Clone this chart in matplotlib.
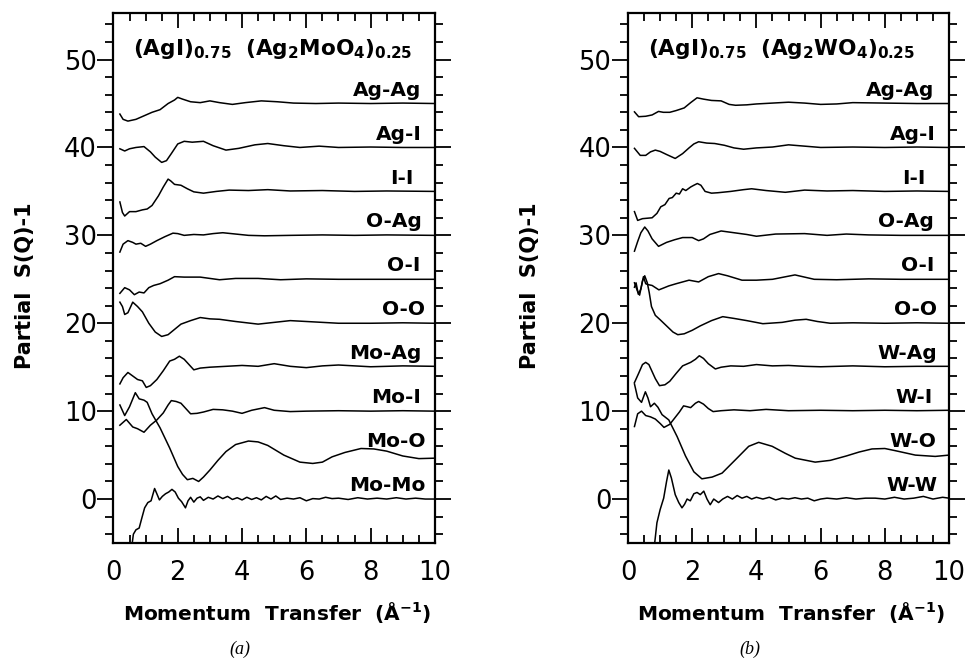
import matplotlib
matplotlib.use("Agg")
import matplotlib.pyplot as plt
from matplotlib.ticker import MultipleLocator

plt.rcParams["font.family"] = "DejaVu Sans"
plt.rcParams["mathtext.fontset"] = "dejavusans"

# ---- panel (a): (AgI)0.75 (Ag2MoO4)0.25 ----
AGAG_A_Q = [0.2, 0.3, 0.45, 0.7, 0.95, 1.2, 1.45, 1.7, 1.9, 2.0, 2.15, 2.4, 2.7, 3.0, 3.3, 3.7, 4.1, 4.6, 5.1, 5.6, 6.3, 7.0, 8.0, 9.0, 10.0]
AGAG_A_S = [43.8, 43.2, 43.0, 43.2, 43.6, 44.0, 44.3, 45.0, 45.4, 45.7, 45.5, 45.2, 45.1, 45.3, 45.1, 44.9, 45.1, 45.3, 45.2, 45.05, 45.0, 45.05, 45.0, 45.05, 45.0]
AGI_A_Q = [0.2, 0.35, 0.5, 0.7, 0.95, 1.15, 1.3, 1.5, 1.65, 1.8, 2.0, 2.2, 2.45, 2.8, 3.1, 3.5, 3.9, 4.4, 4.8, 5.3, 5.8, 6.4, 7.0, 8.0, 9.0, 10.0]
AGI_A_S = [39.85, 39.6, 39.85, 40.0, 40.1, 39.5, 38.9, 38.3, 38.5, 39.3, 40.4, 40.7, 40.6, 40.7, 40.2, 39.7, 39.9, 40.3, 40.45, 40.2, 40.0, 40.15, 40.0, 40.05, 40.0, 40.0]
II_A_Q = [0.2, 0.28, 0.35, 0.5, 0.7, 0.9, 1.05, 1.2, 1.4, 1.55, 1.7, 1.78, 1.9, 2.1, 2.3, 2.5, 2.8, 3.2, 3.6, 4.2, 4.8, 5.5, 6.5, 7.5, 8.5, 10.0]
II_A_S = [33.8, 32.6, 32.2, 32.7, 32.7, 32.9, 33.0, 33.4, 34.5, 35.5, 36.4, 36.2, 35.8, 35.7, 35.3, 34.95, 34.8, 35.0, 35.15, 35.1, 35.2, 35.05, 35.1, 35.0, 35.05, 35.0]
OAG_A_Q = [0.2, 0.3, 0.45, 0.6, 0.7, 0.85, 1.0, 1.15, 1.35, 1.6, 1.85, 2.0, 2.2, 2.5, 2.8, 3.1, 3.4, 3.8, 4.2, 4.7, 5.5, 6.5, 7.5, 8.5, 10.0]
OAG_A_S = [28.1, 29.0, 29.4, 29.2, 29.0, 29.1, 28.75, 29.0, 29.4, 29.85, 30.25, 30.2, 30.0, 30.1, 30.05, 30.2, 30.3, 30.15, 30.0, 29.95, 30.0, 30.05, 30.0, 30.05, 30.0]
OI_A_Q = [0.2, 0.35, 0.5, 0.65, 0.8, 0.95, 1.1, 1.25, 1.45, 1.7, 1.9, 2.2, 2.7, 3.3, 3.8, 4.5, 5.2, 6.0, 7.0, 8.0, 9.0, 10.0]
OI_A_S = [23.4, 24.05, 23.8, 23.25, 23.55, 23.45, 24.05, 24.3, 24.5, 24.9, 25.3, 25.25, 25.25, 24.95, 25.1, 25.1, 24.95, 25.05, 25.0, 25.0, 25.0, 25.0]
OO_A_Q = [0.2, 0.28, 0.35, 0.45, 0.6, 0.75, 0.9, 1.1, 1.3, 1.5, 1.7, 1.9, 2.1, 2.4, 2.7, 3.0, 3.3, 3.8, 4.5, 5.0, 5.5, 6.0, 6.5, 7.0, 8.0, 9.0, 10.0]
OO_A_S = [22.4, 21.9, 21.0, 21.2, 22.4, 21.9, 21.3, 20.0, 19.0, 18.5, 18.7, 19.3, 19.9, 20.3, 20.65, 20.5, 20.45, 20.2, 19.9, 20.1, 20.3, 20.2, 20.1, 20.0, 20.0, 20.05, 20.0]
MOAG_A_Q = [0.2, 0.3, 0.45, 0.6, 0.75, 0.9, 1.02, 1.15, 1.35, 1.55, 1.75, 1.9, 2.05, 2.2, 2.35, 2.5, 2.7, 3.0, 3.5, 4.0, 4.5, 5.0, 5.5, 6.0, 6.5, 7.0, 8.0, 9.0, 10.0]
MOAG_A_S = [13.1, 13.8, 14.4, 14.0, 13.6, 13.45, 12.7, 12.9, 13.6, 14.6, 15.7, 15.9, 16.25, 15.9, 15.3, 14.7, 14.9, 15.0, 15.1, 15.2, 15.1, 15.4, 15.1, 14.95, 15.15, 15.25, 15.05, 15.15, 15.1]
MOI_A_Q = [0.2, 0.4, 0.6, 0.75, 0.95, 1.15, 1.35, 1.55, 1.7, 1.8, 1.95, 2.1, 2.25, 2.4, 2.6, 2.8, 3.1, 3.4, 3.7, 4.0, 4.3, 4.7, 5.0, 5.5, 6.0, 7.0, 8.0, 9.0, 10.0]
MOI_A_S = [8.4, 9.05, 8.2, 8.0, 7.6, 8.4, 9.0, 9.8, 10.7, 11.2, 11.1, 10.9, 10.3, 9.7, 9.75, 9.9, 10.2, 10.15, 10.0, 9.75, 10.1, 10.4, 10.1, 9.95, 10.0, 10.05, 10.0, 10.05, 10.0]
MOO_A_Q = [0.2, 0.35, 0.5, 0.68, 0.8, 0.95, 1.05, 1.2, 1.45, 1.75, 2.0, 2.15, 2.3, 2.47, 2.65, 2.8, 3.0, 3.25, 3.5, 3.8, 4.2, 4.5, 4.8, 5.3, 5.8, 6.2, 6.5, 6.8, 7.2, 7.7, 8.1, 8.5, 9.0, 9.5, 10.0]
MOO_A_S = [10.7, 9.5, 10.5, 12.1, 11.4, 11.25, 11.0, 9.7, 8.1, 5.8, 3.7, 2.8, 2.2, 2.35, 2.0, 2.5, 3.3, 4.4, 5.4, 6.2, 6.6, 6.5, 6.1, 5.0, 4.2, 4.05, 4.2, 4.8, 5.3, 5.75, 5.7, 5.45, 4.9, 4.6, 4.65]
MOMO_A_Q = [0.55, 0.62, 0.7, 0.8, 0.88, 0.97, 1.07, 1.17, 1.28, 1.35, 1.43, 1.52, 1.62, 1.72, 1.82, 1.92, 2.02, 2.12, 2.24, 2.32,
            2.4, 2.5, 2.6, 2.7, 2.8, 2.95, 3.1, 3.25, 3.4, 3.55, 3.7, 3.85, 4.0, 4.15, 4.3, 4.45, 4.6, 4.75, 4.9, 5.05,
            5.2, 5.4, 5.6, 5.8, 6.0, 6.2, 6.4, 6.6, 6.8, 7.0, 7.3, 7.6, 7.9, 8.2, 8.5, 8.8, 9.1, 9.4, 9.7, 10.0]
MOMO_A_S = [-6.0, -4.0, -3.5, -3.3, -2.2, -1.0, -0.4, -0.2, 1.2, 0.6, -0.1, 0.3, 0.6, 0.8, 1.1, 0.8, 0.1, -0.3, -1.0, -0.2,
            0.2, -0.35, 0.1, 0.25, -0.15, 0.2, 0.0, 0.35, 0.05, 0.3, -0.05, 0.15, -0.1, 0.2, -0.05, 0.15, -0.1, 0.3, 0.0, 0.35,
            -0.05, 0.1, 0.0, 0.15, -0.2, 0.05, 0.0, 0.2, 0.05, 0.1, -0.05, 0.15, 0.0, 0.1, 0.0, 0.15, 0.0, 0.1, 0.0, 0.0]

# ---- panel (b): (AgI)0.75 (Ag2WO4)0.25 ----
AGAG_B_Q = [0.2, 0.33, 0.55, 0.75, 0.95, 1.1, 1.3, 1.5, 1.75, 1.95, 2.15, 2.35, 2.6, 2.9, 3.15, 3.35, 3.7, 4.0, 4.5, 5.0, 5.5, 6.0, 6.5, 7.0, 8.0, 9.0, 10.0]
AGAG_B_S = [44.05, 43.5, 43.55, 43.7, 44.1, 44.0, 44.0, 44.2, 44.5, 45.1, 45.65, 45.5, 45.35, 45.3, 44.9, 44.8, 44.85, 44.95, 45.05, 45.15, 45.05, 44.9, 44.95, 45.1, 45.05, 45.0, 45.0]
AGI_B_Q = [0.2, 0.38, 0.55, 0.7, 0.85, 1.0, 1.2, 1.47, 1.7, 1.9, 2.05, 2.2, 2.45, 2.7, 3.0, 3.3, 3.6, 4.0, 4.5, 5.0, 5.5, 6.0, 7.0, 8.0, 9.0, 10.0]
AGI_B_S = [39.9, 39.1, 39.1, 39.5, 39.7, 39.55, 39.2, 38.75, 39.3, 39.95, 40.4, 40.65, 40.5, 40.45, 40.25, 39.95, 39.8, 39.95, 40.05, 40.3, 40.15, 40.0, 40.05, 40.0, 40.05, 40.0]
II_B_Q = [0.2, 0.3, 0.45, 0.6, 0.75, 0.9, 1.02, 1.15, 1.28, 1.38, 1.5, 1.6, 1.7, 1.8, 1.95, 2.05, 2.16, 2.27, 2.4, 2.6, 2.8, 3.2, 3.6, 3.85, 4.3, 4.9, 5.5, 6.2, 7.0, 8.0, 9.0, 10.0]
II_B_S = [32.7, 31.7, 31.9, 31.95, 32.0, 32.5, 33.25, 33.5, 34.2, 34.3, 34.8, 34.7, 35.3, 35.1, 35.5, 35.7, 35.9, 35.7, 35.0, 34.8, 34.85, 35.0, 35.2, 35.3, 35.1, 34.9, 35.15, 35.05, 35.1, 35.0, 35.05, 35.0]
OAG_B_Q = [0.2, 0.3, 0.4, 0.52, 0.62, 0.75, 0.95, 1.2, 1.45, 1.7, 2.0, 2.2, 2.35, 2.55, 2.9, 3.3, 3.7, 4.0, 4.6, 5.5, 6.2, 6.8, 7.5, 8.5, 10.0]
OAG_B_S = [28.2, 29.3, 30.3, 30.95, 30.5, 29.6, 28.75, 29.2, 29.5, 29.75, 29.75, 29.4, 29.6, 30.1, 30.5, 30.3, 30.1, 29.9, 30.15, 30.2, 30.0, 30.15, 30.05, 30.0, 30.0]
OI_B_Q = [0.2, 0.25, 0.32, 0.4, 0.48, 0.55, 0.62, 0.75, 0.96, 1.1, 1.27, 1.5, 1.7, 1.9, 2.2, 2.5, 2.82, 3.1, 3.55, 4.0, 4.5, 5.2, 5.8, 6.5, 7.5, 8.5, 10.0]
OI_B_S = [24.1, 24.6, 23.3, 23.9, 25.3, 24.5, 24.4, 24.3, 23.8, 24.0, 24.25, 24.5, 24.7, 24.9, 24.7, 25.3, 25.65, 25.4, 24.9, 24.9, 25.0, 25.5, 25.0, 24.95, 25.05, 25.0, 25.0]
OO_B_Q = [0.2, 0.3, 0.36, 0.45, 0.52, 0.6, 0.66, 0.73, 0.85, 1.0, 1.2, 1.4, 1.55, 1.75, 2.0, 2.25, 2.6, 2.95, 3.3, 3.7, 4.2, 4.8, 5.2, 5.55, 5.9, 6.3, 7.0, 8.0, 9.0, 10.0]
OO_B_S = [24.6, 23.6, 23.2, 24.8, 25.4, 24.6, 23.5, 21.9, 20.9, 20.4, 19.7, 19.0, 18.7, 18.8, 19.2, 19.7, 20.3, 20.75, 20.55, 20.3, 19.95, 20.1, 20.35, 20.45, 20.2, 20.0, 20.05, 20.0, 20.05, 20.0]
WAG_B_Q = [0.2, 0.33, 0.45, 0.55, 0.65, 0.75, 0.85, 0.98, 1.15, 1.3, 1.5, 1.7, 1.95, 2.1, 2.22, 2.35, 2.5, 2.72, 2.9, 3.2, 3.6, 4.0, 4.5, 5.0, 5.5, 6.0, 7.0, 8.0, 9.0, 10.0]
WAG_B_S = [13.25, 14.3, 15.3, 15.55, 15.3, 14.5, 13.7, 12.9, 13.0, 13.4, 14.3, 15.15, 15.55, 15.9, 16.3, 16.0, 15.4, 14.8, 15.0, 15.15, 15.1, 15.3, 15.15, 15.2, 15.1, 15.05, 15.15, 15.05, 15.1, 15.1]
WI_B_Q = [0.2, 0.3, 0.42, 0.55, 0.7, 0.85, 1.0, 1.12, 1.3, 1.45, 1.6, 1.73, 1.85, 1.95, 2.1, 2.2, 2.35, 2.5, 2.65, 2.9, 3.3, 3.8, 4.3, 5.0, 6.0, 7.0, 8.0, 9.0, 10.0]
WI_B_S = [8.25, 9.7, 10.0, 9.5, 9.35, 9.1, 8.6, 8.15, 8.5, 9.2, 9.9, 10.6, 10.5, 10.4, 10.9, 11.1, 10.8, 10.3, 9.95, 10.05, 10.15, 10.05, 10.2, 10.05, 10.1, 10.05, 10.1, 10.05, 10.1]
WO_B_Q = [0.2, 0.3, 0.42, 0.54, 0.62, 0.7, 0.82, 0.93, 1.06, 1.27, 1.53, 1.79, 2.05, 2.3, 2.62, 2.93, 3.34, 3.76, 4.07, 4.49, 4.9, 5.21, 5.83, 6.3, 6.8, 7.2, 7.6, 8.0, 8.33, 8.95, 9.57, 10.0]
WO_B_S = [13.1, 11.5, 11.0, 12.2, 11.5, 10.5, 10.9, 10.45, 9.6, 9.0, 7.1, 4.9, 3.1, 2.3, 2.5, 2.95, 4.45, 6.0, 6.45, 6.0, 5.2, 4.65, 4.2, 4.4, 4.9, 5.35, 5.7, 5.75, 5.5, 5.0, 4.85, 5.0]
WW_B_Q = [0.8, 0.9, 1.0, 1.11, 1.2, 1.27, 1.35, 1.47, 1.58, 1.68, 1.76, 1.84, 1.94, 2.05, 2.15, 2.25, 2.36, 2.46, 2.56, 2.67,
          2.82, 2.95, 3.1, 3.25, 3.4, 3.55, 3.7, 3.85, 4.0, 4.2, 4.4, 4.6, 4.8, 5.0, 5.2, 5.4, 5.6, 5.8, 6.0, 6.2,
          6.5, 6.8, 7.1, 7.4, 7.7, 8.0, 8.3, 8.6, 8.9, 9.2, 9.5, 9.8, 10.0]
WW_B_S = [-6.0, -2.7, -1.2, 0.1, 2.0, 3.3, 2.4, 0.5, -0.4, -1.0, -0.6, 0.0, -0.2, 0.6, 0.75, 0.5, 0.9, 0.0, -0.65, 0.0,
          -0.4, 0.0, 0.3, 0.0, 0.4, 0.1, 0.3, 0.0, 0.2, 0.0, 0.2, -0.1, 0.1, 0.0, 0.15, 0.0, 0.1, -0.2, 0.0, 0.1,
          0.0, 0.15, 0.0, 0.1, 0.1, 0.0, 0.2, 0.0, 0.1, 0.3, 0.0, 0.2, 0.1]

LABELS_A = ["Ag-Ag", "Ag-I", "I-I", "O-Ag", "O-I", "O-O", "Mo-Ag", "Mo-I", "Mo-O", "Mo-Mo"]
LABELS_B = ["Ag-Ag", "Ag-I", "I-I", "O-Ag", "O-I", "O-O", "W-Ag", "W-I", "W-O", "W-W"]
OFFSETS = [45, 40, 35, 30, 25, 20, 15, 10, 5, 0]
TITLE_A = r"$\mathbf{(AgI)_{0.75}\ \ (Ag_2MoO_4)_{0.25}}$"
TITLE_B = r"$\mathbf{(AgI)_{0.75}\ \ (Ag_2WO_4)_{0.25}}$"

# where each label's right edge sits (in Q units)
LABEL_X_A = [9.58, 9.6, 9.33, 9.58, 9.55, 9.7, 9.58, 9.58, 9.7, 9.72]
LABEL_X_B = [9.53, 9.58, 9.27, 9.53, 9.53, 9.63, 9.63, 9.5, 9.6, 9.64]


def draw_panel(ax, curves, labels, label_x, title):
    for q, s in curves:
        ax.plot(q, s, color="black", lw=1.1, clip_on=True)
    for lab, off, xr in zip(labels, OFFSETS, label_x):
        ax.text(xr, off + 0.9, lab, ha="right", va="baseline",
                fontsize=14.5, fontweight="bold")
    ax.text(0.62, 50.5, title, ha="left", va="baseline", fontsize=15.6)

    ax.set_xlim(0, 10)
    ax.set_ylim(-5, 55.3)
    ax.xaxis.set_major_locator(MultipleLocator(2))
    ax.xaxis.set_minor_locator(MultipleLocator(0.5))
    ax.yaxis.set_major_locator(MultipleLocator(10))
    ax.yaxis.set_minor_locator(MultipleLocator(2))
    ax.tick_params(axis="x", which="both", direction="in", top=True, bottom=True,
                   width=1.3, labelsize=18.5, pad=12)
    ax.tick_params(axis="x", which="major", length=11)
    ax.tick_params(axis="x", which="minor", length=6)
    ax.tick_params(axis="y", which="both", direction="out", left=True, right=True,
                   width=1.3, labelsize=18.5, pad=0.5)
    ax.tick_params(axis="y", which="major", length=11.5)
    ax.tick_params(axis="y", which="minor", length=5.5)
    for sp in ax.spines.values():
        sp.set_linewidth(1.6)


fig = plt.figure(figsize=(9.68, 6.66), dpi=100)
ax_a = fig.add_axes([0.1172, 0.1847, 0.3321, 0.7958])
ax_b = fig.add_axes([0.6488, 0.1847, 0.3316, 0.7958])

curves_a = [(AGAG_A_Q, AGAG_A_S), (AGI_A_Q, AGI_A_S), (II_A_Q, II_A_S), (OAG_A_Q, OAG_A_S),
            (OI_A_Q, OI_A_S), (OO_A_Q, OO_A_S), (MOAG_A_Q, MOAG_A_S), (MOI_A_Q, MOI_A_S),
            (MOO_A_Q, MOO_A_S), (MOMO_A_Q, MOMO_A_S)]
curves_b = [(AGAG_B_Q, AGAG_B_S), (AGI_B_Q, AGI_B_S), (II_B_Q, II_B_S), (OAG_B_Q, OAG_B_S),
            (OI_B_Q, OI_B_S), (OO_B_Q, OO_B_S), (WAG_B_Q, WAG_B_S), (WI_B_Q, WI_B_S),
            (WO_B_Q, WO_B_S), (WW_B_Q, WW_B_S)]

draw_panel(ax_a, curves_a, LABELS_A, LABEL_X_A, TITLE_A)
draw_panel(ax_b, curves_b, LABELS_B, LABEL_X_B, TITLE_B)

for ax, ylab_x, cap, cap_x in [(ax_a, 0.026, "(a)", 0.248), (ax_b, 0.548, "(b)", 0.775)]:
    pos = ax.get_position()
    fig.text(pos.x0 + pos.width / 2 + 0.003, 0.081, "Momentum  Transfer  (Å$^{\\mathbf{-1}}$)",
             ha="center", va="center", fontsize=14.5, fontweight="bold")
    fig.text(ylab_x, 0.5706, "Partial  S(Q)-1", rotation=90, ha="center", va="center",
             fontsize=15, fontweight="bold")
    fig.text(cap_x, 0.012, cap, ha="center", va="bottom", fontsize=13,
             family="Liberation Serif", style="italic")

fig.savefig("out.png", dpi=100)
